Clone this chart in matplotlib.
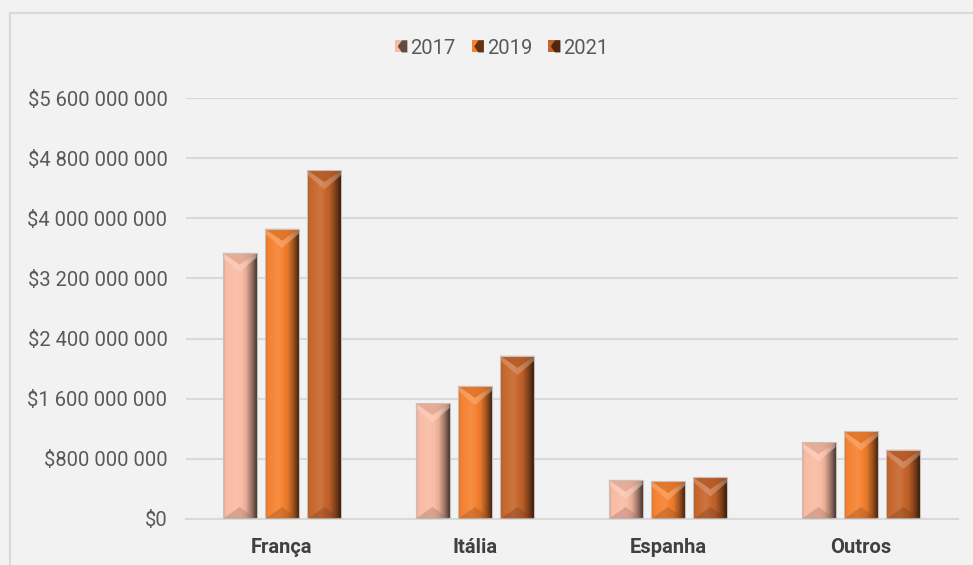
import numpy as np
import matplotlib
matplotlib.use('Agg')
import matplotlib.pyplot as plt
from matplotlib.colors import to_rgb
from matplotlib.patches import Polygon, Rectangle
from matplotlib.legend_handler import HandlerBase

categories = ['França', 'Itália', 'Espanha', 'Outros']
years = ['2017', '2019', '2021']
v2017 = [3.54e9, 1.54e9, 0.52e9, 1.02e9]
v2019 = [3.86e9, 1.77e9, 0.505e9, 1.165e9]
v2021 = [4.64e9, 2.17e9, 0.555e9, 0.92e9]
yticks = [0, 8e8, 1.6e9, 2.4e9, 3.2e9, 4.0e9, 4.8e9, 5.6e9]

series = [v2017, v2019, v2021]
colors = ['#f9bba3', '#f5812f', '#c6652b']

plt.rcParams['font.family'] = ['Roboto', 'DejaVu Sans']

W, H = 973, 565
fig = plt.figure(figsize=(W / 100, H / 100), dpi=100, facecolor='#f2f2f2')
# outer frame
fig.patches.append(Rectangle((10 / W, -0.1), 1.2, 1.1 - 13 / H,
                             transform=fig.transFigure, fill=False,
                             edgecolor='#d9d9d9', lw=1.5, zorder=0))

ax_l, ax_b, ax_w, ax_h = 185.5, 46, 772, 421
ax = fig.add_axes([ax_l / W, ax_b / H, ax_w / W, ax_h / H])
ax.set_facecolor('none')
ax.set_xlim(-0.5, 3.5)
ax.set_ylim(0, 5.6e9)
ax.set_yticks(yticks)
ax.set_yticklabels(['$' + f"{int(v):,}".replace(',', ' ') for v in yticks],
                   fontsize=14.5, color='#595959')
ax.set_xticks(range(len(categories)))
ax.set_xticklabels(categories, fontsize=14.5, fontweight='bold', color='#404040')
ax.tick_params(axis='both', length=0)
ax.tick_params(axis='y', pad=13)
ax.tick_params(axis='x', pad=14)
ax.yaxis.grid(True, color='#d9d9d9', lw=1.5)
ax.set_axisbelow(True)
for s in ['top', 'right', 'left']:
    ax.spines[s].set_visible(False)
ax.spines['bottom'].set_color('#d9d9d9')
ax.spines['bottom'].set_linewidth(1.5)

ypx = 5.6e9 / ax_h  # data per pixel (y)


def shade(c, k):
    c = np.array(c)
    if k >= 1:
        return np.clip(c + (1 - c) * (k - 1), 0, 1)
    return np.clip(c * k, 0, 1)


tpts = [0, 0.08, 0.4, 0.68, 0.86, 1.0]
kpts = [0.86, 1.0, 1.1, 0.92, 0.6, 0.28]
N = 128
tt = np.linspace(0, 1, N)
kk = np.interp(tt, tpts, kpts)

bw = 0.176
step = 0.22
for i, (vals, col) in enumerate(zip(series, colors)):
    base = to_rgb(col)
    row = np.array([shade(base, k) for k in kk])
    grad = np.repeat(row[None, :, :], 4, axis=0)
    for j, v in enumerate(vals):
        xc = j + (i - 1) * step
        x0, x1 = xc - bw / 2, xc + bw / 2
        clip = Rectangle((x0, 0), bw, v, transform=ax.transData)
        im = ax.imshow(grad, extent=[x0, x1, 0, v], aspect='auto', zorder=2,
                       interpolation='nearest')
        im.set_clip_path(clip)
        d = 12 * ypx
        # top bevel triangle
        top = Polygon([(x0, v), (x1, v), (xc, v - d)], closed=True,
                      facecolor=shade(base, 0.9), edgecolor='none',
                      alpha=0.8, zorder=3)
        ax.add_patch(top)
        # highlight below the V
        hl = Polygon([(x0, v), (xc, v - d), (x1, v),
                      (x1, v - 0.4 * d), (xc, v - 1.6 * d), (x0, v - 0.4 * d)],
                     closed=True, facecolor=shade(base, 1.4), edgecolor='none',
                     alpha=0.5, zorder=3)
        ax.add_patch(hl)
        # bottom bevel
        bot = Polygon([(x0, 0), (x1, 0), (xc, min(d, v / 2))], closed=True,
                      facecolor=shade(base, 0.6), edgecolor='none',
                      alpha=0.35, zorder=3)
        ax.add_patch(bot)
        ax.add_patch(Rectangle((x0, 0), bw, v, fill=False, edgecolor='#c9c0bc',
                               lw=0.8, zorder=4))


class BevelHandler(HandlerBase):
    def create_artists(self, legend, orig_handle, xdescent, ydescent, width,
                       height, fontsize, trans):
        base = to_rgb(orig_handle.get_facecolor())
        s = min(width, height)
        x0, y0 = -xdescent + (width - s) / 2, -ydescent + (height - s) / 2
        r = Rectangle((x0, y0), s, s, facecolor=shade(base, 1.0),
                      edgecolor='none', transform=trans)
        tri = Polygon([(x0 + s * 0.55, y0), (x0 + s, y0), (x0 + s, y0 + s),
                       (x0 + s * 0.55, y0 + s), (x0 + s * 0.2, y0 + s / 2)],
                      facecolor=shade(base, 0.4), edgecolor='none', transform=trans)
        return [r, tri]


handles = [Rectangle((0, 0), 1, 1, facecolor=c) for c in colors]
fig.legend(handles, years, loc='center', bbox_to_anchor=(502 / W, 1 - 48 / H),
           ncol=3, frameon=False, fontsize=14.5, labelcolor='#595959',
           handlelength=0.6, handleheight=0.6, handletextpad=0.15,
           columnspacing=0.8, handler_map={Rectangle: BevelHandler()})

fig.savefig('out.png', dpi=100, facecolor=fig.get_facecolor())
